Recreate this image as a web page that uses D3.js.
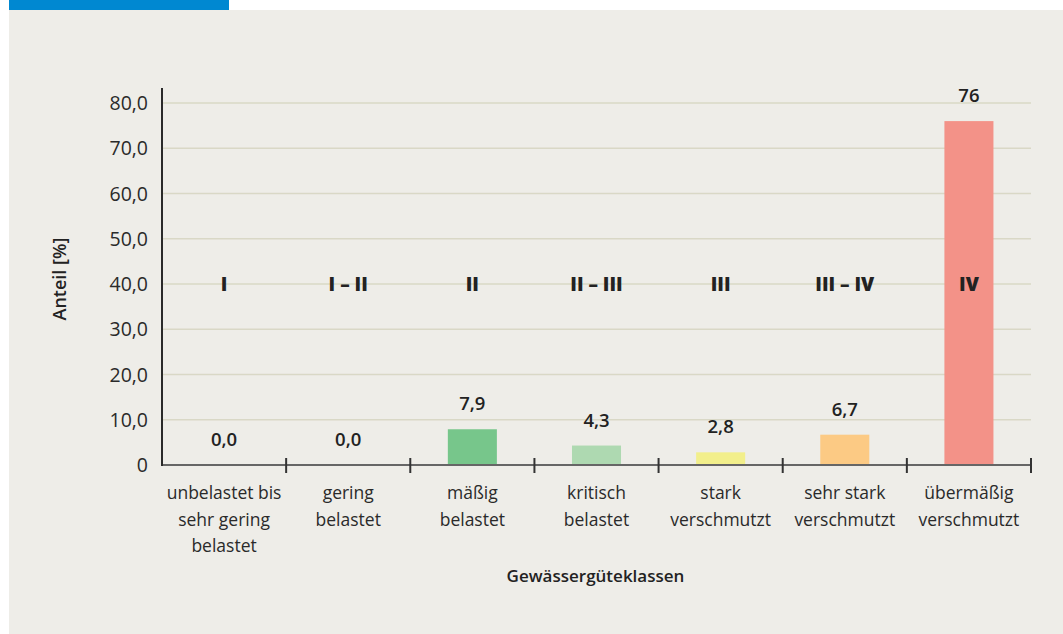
<!DOCTYPE html>
<html>
<head>
<meta charset="utf-8">
<script src="https://cdn.jsdelivr.net/npm/d3@7"></script>
<style>
  html, body { margin: 0; padding: 0; background: #ffffff; }
  svg { display: block; font-family: "Open Sans", "Noto Sans", sans-serif; }
</style>
</head>
<body>
<svg id="chart" width="1063" height="634"></svg>
<script>
// Gewässergüteklassen: Anteil je Klasse in Prozent
const classCodes = ["I", "I – II", "II", "II – III", "III", "III – IV", "IV"];
const classNames = [
  ["unbelastet bis", "sehr gering", "belastet"],
  ["gering", "belastet"],
  ["mäßig", "belastet"],
  ["kritisch", "belastet"],
  ["stark", "verschmutzt"],
  ["sehr stark", "verschmutzt"],
  ["übermäßig", "verschmutzt"]
];
const shares = [0.0, 0.0, 7.9, 4.3, 2.8, 6.7, 76];
const shareLabels = ["0,0", "0,0", "7,9", "4,3", "2,8", "6,7", "76"];
const barColors = ["#77c68b", "#77c68b", "#77c68b", "#aed9b1", "#f2ef8b", "#fcca84", "#f39288"];
const yTicks = [0, 10, 20, 30, 40, 50, 60, 70, 80];
const yTickLabels = ["0", "10,0", "20,0", "30,0", "40,0", "50,0", "60,0", "70,0", "80,0"];

const svg = d3.select("#chart");

// page decoration: blue tab and grey panel
svg.append("rect").attr("x", 9).attr("y", 0).attr("width", 220).attr("height", 10).attr("fill", "#0088d1");
svg.append("rect").attr("x", 9).attr("y", 10).attr("width", 1054).attr("height", 624).attr("fill", "#eeede8");

const plot = { left: 162, right: 1031, top: 88, bottom: 465 };

const x = d3.scaleBand()
  .domain(d3.range(classCodes.length))
  .range([plot.left, plot.right])
  .paddingInner(0).paddingOuter(0);

const y = d3.scaleLinear().domain([0, 80]).range([plot.bottom, plot.bottom - 80 * 4.525]);

const barWidth = x.bandwidth() * 0.395;

// horizontal gridlines
svg.append("g")
  .selectAll("line")
  .data(yTicks.filter(d => d > 0))
  .join("line")
  .attr("x1", plot.left).attr("x2", plot.right)
  .attr("y1", d => y(d)).attr("y2", d => y(d))
  .attr("stroke", "#d9d8c6").attr("stroke-width", 1.5);

// y tick labels
svg.append("g")
  .selectAll("text")
  .data(yTicks)
  .join("text")
  .attr("x", 148)
  .attr("y", d => y(d))
  .attr("dy", "0.36em")
  .attr("text-anchor", "end")
  .attr("font-size", 19.5)
  .attr("fill", "#2a2a2a")
  .text((d, i) => yTickLabels[i]);

// bars
svg.append("g")
  .selectAll("rect")
  .data(shares)
  .join("rect")
  .attr("x", (d, i) => x(i) + (x.bandwidth() - barWidth) / 2)
  .attr("y", d => y(d))
  .attr("width", barWidth)
  .attr("height", d => y(0) - y(d))
  .attr("fill", (d, i) => barColors[i]);

// class codes in the middle of the plot
svg.append("g")
  .selectAll("text")
  .data(classCodes)
  .join("text")
  .attr("x", (d, i) => x(i) + x.bandwidth() / 2)
  .attr("y", y(40))
  .attr("dy", "0.38em")
  .attr("text-anchor", "middle")
  .attr("font-size", 19)
  .attr("font-weight", 800)
  .attr("fill", "#222")
  .text(d => d);

// value labels above bars
svg.append("g")
  .selectAll("text")
  .data(shares)
  .join("text")
  .attr("x", (d, i) => x(i) + x.bandwidth() / 2)
  .attr("y", d => y(d) - 19)
  .attr("text-anchor", "middle")
  .attr("font-size", 18.5)
  .attr("font-weight", 600)
  .attr("fill", "#222")
  .text((d, i) => shareLabels[i]);

// x axis line and category separators
svg.append("line")
  .attr("x1", plot.left).attr("x2", plot.right)
  .attr("y1", plot.bottom).attr("y2", plot.bottom)
  .attr("stroke", "#666").attr("stroke-width", 2);

const separators = d3.range(1, classCodes.length + 1).map(i => i < classCodes.length ? x(i) : plot.right);
svg.append("g")
  .selectAll("line")
  .data(separators)
  .join("line")
  .attr("x1", d => d).attr("x2", d => d)
  .attr("y1", plot.bottom - 7).attr("y2", plot.bottom + 8)
  .attr("stroke", "#333").attr("stroke-width", 2);

// y axis line
svg.append("line")
  .attr("x1", plot.left).attr("x2", plot.left)
  .attr("y1", plot.top).attr("y2", plot.bottom + 1)
  .attr("stroke", "#2a2a2a").attr("stroke-width", 2);

// category names below the axis
const catGroup = svg.append("g");
classNames.forEach((lines, i) => {
  const t = catGroup.append("text")
    .attr("x", x(i) + x.bandwidth() / 2)
    .attr("y", 498)
    .attr("text-anchor", "middle")
    .attr("font-size", 17.5)
    .attr("fill", "#2a2a2a");
  lines.forEach((ln, j) => {
    t.append("tspan")
      .attr("x", x(i) + x.bandwidth() / 2)
      .attr("y", 499 + j * 26.5)
      .text(ln);
  });
});

// axis titles
svg.append("text")
  .attr("x", (plot.left + plot.right) / 2 - 1)
  .attr("y", 582)
  .attr("text-anchor", "middle")
  .attr("font-size", 17)
  .attr("font-weight", 600)
  .attr("fill", "#222")
  .text("Gewässergüteklassen");

svg.append("text")
  .attr("transform", `translate(66, ${y(40) - 5}) rotate(-90)`)
  .attr("text-anchor", "middle")
  .attr("font-size", 18)
  .attr("font-weight", 600)
  .attr("fill", "#222")
  .text("Anteil [%]");
</script>
</body>
</html>
